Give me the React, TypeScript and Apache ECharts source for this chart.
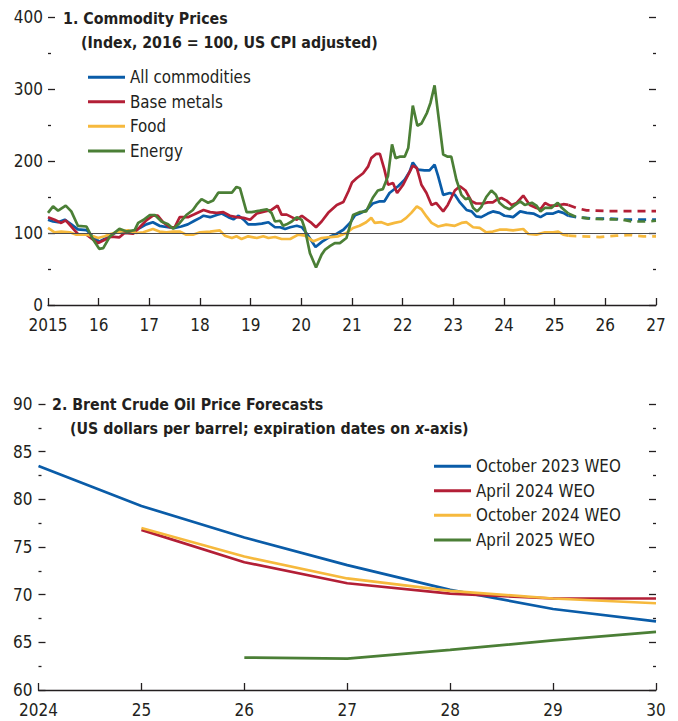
import React, { useEffect, useRef } from "react";
import * as echarts from "echarts";

const FONT = "'Liberation Sans Narrow','DejaVu Sans Condensed','Roboto Condensed',Roboto,sans-serif";
const INK = "#231f20";
const BLUE = "#0a5ca8";
const RED = "#b31f36";
const YELLOW = "#f6b93d";
const GREEN = "#4b7f36";

// ---- Panel 1: Commodity prices (year, index) ----
const panel1Names = ["All commodities", "Base metals", "Food", "Energy"];

const allCommodities: [number, number][] = [
  [2015.0, 118.5], [2015.1, 116], [2015.2, 115], [2015.33, 118.5], [2015.46, 112], [2015.59, 105], [2015.76, 104],
  [2015.89, 95], [2016.01, 88], [2016.15, 93], [2016.32, 100], [2016.48, 102], [2016.68, 101], [2016.81, 107],
  [2016.94, 112], [2017.07, 115], [2017.2, 110], [2017.37, 108], [2017.5, 107], [2017.63, 109], [2017.76, 112],
  [2017.89, 117], [2018.0, 121], [2018.07, 124], [2018.2, 122], [2018.33, 125], [2018.43, 127], [2018.56, 122],
  [2018.66, 119], [2018.76, 124], [2018.86, 118.5], [2018.95, 112], [2019.09, 112], [2019.22, 113], [2019.35, 115],
  [2019.48, 108], [2019.58, 108], [2019.68, 105.5], [2019.78, 108], [2019.91, 110], [2020.01, 108], [2020.11, 99],
  [2020.28, 80.5], [2020.41, 88], [2020.57, 95], [2020.7, 99], [2020.83, 104.5], [2020.96, 114], [2021.06, 124.5],
  [2021.15, 127], [2021.28, 131.5], [2021.41, 141], [2021.55, 144], [2021.64, 144], [2021.74, 155.5], [2021.91, 165],
  [2022.04, 174], [2022.14, 185.5], [2022.2, 198], [2022.3, 188], [2022.43, 187], [2022.53, 187], [2022.63, 195],
  [2022.7, 179], [2022.8, 153], [2022.93, 155.5], [2023.03, 153], [2023.13, 142.5], [2023.26, 132], [2023.36, 130],
  [2023.45, 123], [2023.55, 122], [2023.68, 127], [2023.78, 130], [2023.91, 128], [2024.01, 124], [2024.11, 123],
  [2024.18, 122], [2024.32, 130], [2024.45, 128], [2024.58, 127], [2024.72, 122], [2024.84, 127], [2024.97, 127],
  [2025.07, 130], [2025.17, 128], [2025.27, 124],
];
const allCommoditiesForecast: [number, number][] = [
  [2025.27, 124], [2025.43, 122], [2025.76, 120], [2026.09, 120], [2026.42, 118.5], [2026.75, 118.5], [2027.0, 118.5],
];

const baseMetals: [number, number][] = [
  [2015.0, 122], [2015.13, 118.5], [2015.26, 114], [2015.35, 117.5], [2015.46, 109], [2015.59, 98.6], [2015.76, 97.7],
  [2015.89, 90.7], [2015.99, 86], [2016.12, 90.7], [2016.25, 95], [2016.41, 94], [2016.51, 100], [2016.68, 99],
  [2016.81, 108], [2016.94, 117.6], [2017.07, 124], [2017.17, 124], [2017.27, 115], [2017.4, 108], [2017.5, 108],
  [2017.6, 122], [2017.76, 122], [2017.89, 126], [2018.07, 132], [2018.2, 129], [2018.33, 128], [2018.46, 129],
  [2018.59, 124], [2018.72, 122], [2018.86, 121], [2018.99, 118.5], [2019.12, 127], [2019.28, 130], [2019.41, 132],
  [2019.53, 138], [2019.61, 125.5], [2019.71, 125.5], [2019.81, 122], [2019.91, 118.5], [2020.01, 124], [2020.11, 118.5],
  [2020.2, 114], [2020.29, 108], [2020.4, 116], [2020.53, 128], [2020.7, 139], [2020.83, 143], [2020.93, 158],
  [2021.0, 170], [2021.09, 176], [2021.22, 183], [2021.32, 192.6], [2021.38, 204], [2021.48, 210], [2021.55, 210],
  [2021.64, 188], [2021.71, 167], [2021.81, 169.5], [2021.89, 155.5], [2022.01, 167], [2022.11, 181], [2022.2, 193.5],
  [2022.28, 190], [2022.37, 167], [2022.47, 155.5], [2022.57, 139], [2022.66, 141.7], [2022.8, 130], [2022.89, 139],
  [2023.03, 159], [2023.13, 165], [2023.24, 159], [2023.36, 144], [2023.45, 141], [2023.59, 141], [2023.68, 142.6],
  [2023.78, 142.6], [2023.85, 146], [2023.95, 148.6], [2024.05, 145], [2024.15, 139], [2024.25, 141.7], [2024.38, 152],
  [2024.51, 139], [2024.64, 134.7], [2024.72, 133], [2024.81, 141.7], [2024.91, 138], [2025.04, 138], [2025.17, 140],
  [2025.27, 139],
];
const baseMetalsForecast: [number, number][] = [
  [2025.27, 139], [2025.43, 134.7], [2025.63, 131.5], [2026.03, 130.5], [2026.42, 130.5], [2027.0, 130.5],
];

const food: [number, number][] = [
  [2015.0, 107], [2015.13, 101], [2015.26, 102], [2015.43, 101], [2015.56, 97.7], [2015.76, 97.7], [2015.89, 95.4],
  [2015.99, 93], [2016.12, 95.4], [2016.25, 99], [2016.41, 102], [2016.58, 103.7], [2016.74, 100], [2016.88, 101],
  [2017.07, 105.6], [2017.2, 102], [2017.34, 101], [2017.47, 102], [2017.6, 102], [2017.73, 97.7], [2017.86, 97.7],
  [2018.0, 101], [2018.2, 102], [2018.39, 103.7], [2018.49, 96.3], [2018.63, 93], [2018.72, 95.4], [2018.82, 91.7],
  [2018.95, 95.4], [2019.12, 93], [2019.25, 95.4], [2019.35, 93], [2019.48, 94.4], [2019.61, 91.7], [2019.78, 91.7],
  [2019.94, 97.7], [2020.07, 96.3], [2020.24, 88.4], [2020.4, 93], [2020.57, 94.4], [2020.73, 95.4], [2020.89, 100],
  [2021.02, 107], [2021.15, 110], [2021.28, 115], [2021.38, 121], [2021.45, 114], [2021.58, 115], [2021.71, 111.6],
  [2021.84, 114], [2021.97, 116], [2022.07, 121], [2022.17, 128], [2022.28, 137], [2022.37, 133], [2022.47, 123],
  [2022.57, 114], [2022.7, 109], [2022.86, 111.6], [2023.03, 110], [2023.16, 114], [2023.26, 115], [2023.39, 108],
  [2023.52, 107], [2023.65, 101], [2023.78, 102], [2023.91, 104.6], [2024.05, 104.6], [2024.18, 103.7], [2024.38, 105.6],
  [2024.48, 98.6], [2024.64, 97.7], [2024.81, 101], [2024.97, 101], [2025.07, 102], [2025.17, 97.7], [2025.27, 96.3],
];
const foodForecast: [number, number][] = [
  [2025.27, 96.3], [2025.5, 95.4], [2025.89, 94.4], [2026.22, 96.3], [2026.49, 97.2], [2026.75, 95.4], [2027.0, 95.4],
];

const energy: [number, number][] = [
  [2015.0, 128], [2015.1, 137], [2015.2, 131], [2015.35, 138], [2015.46, 130], [2015.59, 110], [2015.76, 109],
  [2015.89, 91], [2016.01, 78], [2016.09, 79], [2016.22, 95], [2016.41, 106], [2016.55, 102], [2016.71, 104],
  [2016.78, 114], [2016.88, 118], [2017.01, 125], [2017.11, 125], [2017.24, 116], [2017.37, 112], [2017.47, 106],
  [2017.6, 114], [2017.73, 125], [2017.86, 132], [2017.93, 139], [2018.03, 147], [2018.16, 142], [2018.26, 145],
  [2018.36, 156], [2018.53, 156], [2018.63, 156], [2018.72, 164], [2018.79, 162], [2018.92, 129], [2019.02, 129],
  [2019.18, 131], [2019.32, 133], [2019.41, 128], [2019.48, 116], [2019.58, 117], [2019.64, 110], [2019.71, 112],
  [2019.81, 116], [2019.91, 122], [2020.01, 118], [2020.07, 106], [2020.17, 72], [2020.29, 52], [2020.4, 70],
  [2020.47, 77], [2020.57, 82], [2020.66, 86], [2020.76, 86], [2020.89, 93], [2021.02, 125], [2021.15, 129],
  [2021.28, 130], [2021.41, 149], [2021.51, 159], [2021.61, 161], [2021.71, 179], [2021.79, 223], [2021.86, 204],
  [2021.94, 206], [2022.04, 206], [2022.11, 218], [2022.2, 277], [2022.29, 249], [2022.37, 252], [2022.48, 267],
  [2022.55, 281], [2022.63, 305], [2022.8, 209], [2022.89, 206], [2022.96, 206], [2023.06, 174], [2023.16, 153],
  [2023.24, 147], [2023.31, 149], [2023.39, 135], [2023.47, 130], [2023.55, 136], [2023.65, 150], [2023.75, 159],
  [2023.84, 153], [2023.91, 142], [2024.01, 136], [2024.11, 133], [2024.18, 137], [2024.32, 144], [2024.41, 139],
  [2024.55, 142], [2024.64, 138], [2024.72, 130], [2024.81, 135], [2024.94, 135], [2025.06, 142], [2025.14, 135],
  [2025.27, 127],
];
const energyForecast: [number, number][] = [
  [2025.27, 127], [2025.43, 122], [2025.7, 120], [2026.03, 119], [2026.29, 119], [2026.52, 116], [2026.82, 116], [2027.0, 117],
];

// ---- Panel 2: Brent crude oil price forecasts ----
const panel2Names = ["October 2023 WEO", "April 2024 WEO", "October 2024 WEO", "April 2025 WEO"];
const brentYears = [2024, 2025, 2026, 2027, 2028, 2029, 2030];
const oct2023 = [83.5, 79.3, 76.0, 73.1, 70.5, 68.5, 67.2];
const apr2024 = [null, 76.8, 73.4, 71.2, 70.1, 69.6, 69.6];
const oct2024 = [null, 77.0, 74.0, 71.7, 70.4, 69.6, 69.1];
const apr2025 = [null, null, 63.4, 63.3, 64.2, 65.2, 66.1];

const pair = (vals: (number | null)[]) =>
  brentYears.map((y, i) => [y, vals[i]]).filter((p) => p[1] !== null);

const tickLine = { color: INK, width: 1.3 };
const LABEL_SIZE = 17;

function yAxes(grid: number, min: number, max: number, interval: number, margin: number) {
  const base = {
    gridIndex: grid,
    type: "value",
    min,
    max,
    interval,
    axisLine: { show: false, onZero: false },
    axisTick: { show: true, inside: true, length: 7, lineStyle: tickLine },
    minorTick: { show: true, splitNumber: 2, length: 3, lineStyle: tickLine },
    splitLine: { show: false },
  };
  return [
    { ...base, position: "left", axisLabel: { fontSize: LABEL_SIZE, color: INK, fontFamily: FONT, margin } },
    { ...base, position: "right", axisLabel: { show: false } },
  ];
}

function xAxis(grid: number, min: number, max: number, margin: number) {
  return {
    gridIndex: grid,
    type: "value",
    min,
    max,
    interval: 1,
    axisLine: { show: true, onZero: false, lineStyle: tickLine },
    axisTick: { show: true, inside: true, length: 7, lineStyle: tickLine },
    axisLabel: {
      fontSize: LABEL_SIZE,
      color: INK,
      fontFamily: FONT,
      margin,
      formatter: (v: number) => (v === min ? String(v) : String(v % 100)),
    },
    splitLine: { show: false },
  };
}

function line(name: string, data: any[], color: string, xi: number, yi: number, dashed = false, extra: any = {}) {
  return {
    name,
    type: "line",
    xAxisIndex: xi,
    yAxisIndex: yi,
    data,
    symbol: "none",
    showSymbol: false,
    lineStyle: { color, width: 2.7, type: dashed ? [8, 6] : "solid" },
    itemStyle: { color },
    ...extra,
  };
}

const titleStyle = { fontSize: 15.8, lineHeight: 20, fontWeight: "bold", color: INK, fontFamily: FONT };

export default function App() {
  const ref = useRef<HTMLDivElement>(null);
  useEffect(() => {
    document.body.style.margin = "0";
    const chart = echarts.init(ref.current!, null, { renderer: "svg" });
    const legendBase = {
      orient: "vertical",
      icon: "rect",
      itemWidth: 37,
      itemHeight: 3,
      itemGap: 0.3,
      padding: 0,
      textStyle: { fontSize: 16.8, color: INK, fontFamily: FONT, lineHeight: 24.3 },
    };
    chart.setOption({
      animation: false,
      textStyle: { fontFamily: FONT },
      title: [
        { text: "1. Commodity Prices", left: 63, top: 8, padding: 0, textStyle: titleStyle },
        { text: "(Index, 2016 = 100, US CPI adjusted)", left: 81, top: 32, padding: 0, textStyle: titleStyle },
        { text: "2. Brent Crude Oil Price Forecasts", left: 52, top: 394, padding: 0, textStyle: titleStyle },
        {
          text: "(US dollars per barrel; expiration dates on {i|x}-axis)",
          left: 70,
          top: 418,
          padding: 0,
          textStyle: { ...titleStyle, rich: { i: { ...titleStyle, fontStyle: "italic" } } },
        },
      ],
      legend: [
        { ...legendBase, data: panel1Names, left: 88, top: 65 },
        { ...legendBase, data: panel2Names, left: 434, top: 454 },
      ],
      grid: [
        { left: 48, right: 22, top: 17, height: 288 },
        { left: 38.5, right: 22, top: 404, height: 286 },
      ],
      xAxis: [xAxis(0, 2015, 2027, 11), xAxis(1, 2024, 2030, 11)],
      yAxis: [...yAxes(0, 0, 400, 100, 5), ...yAxes(1, 60, 90, 5, 6)],
      series: [
        line(panel1Names[0], allCommodities, BLUE, 0, 0, false, {
          markLine: {
            silent: true,
            symbol: "none",
            label: { show: false },
            lineStyle: { color: "#4d4d4f", width: 1.2, type: "solid" },
            data: [{ yAxis: 100 }],
          },
        }),
        line(panel1Names[1], baseMetals, RED, 0, 0),
        line(panel1Names[2], food, YELLOW, 0, 0),
        line(panel1Names[3], energy, GREEN, 0, 0),
        line("All commodities forecast", allCommoditiesForecast, BLUE, 0, 0, true),
        line("Base metals forecast", baseMetalsForecast, RED, 0, 0, true),
        line("Food forecast", foodForecast, YELLOW, 0, 0, true),
        line("Energy forecast", energyForecast, GREEN, 0, 0, true),
        line(panel2Names[0], pair(oct2023), BLUE, 1, 2),
        line(panel2Names[1], pair(apr2024), RED, 1, 2),
        line(panel2Names[2], pair(oct2024), YELLOW, 1, 2),
        line(panel2Names[3], pair(apr2025), GREEN, 1, 2),
      ],
    });
    return () => chart.dispose();
  }, []);
  return <div ref={ref} style={{ width: 678, height: 721 }} />;
}
